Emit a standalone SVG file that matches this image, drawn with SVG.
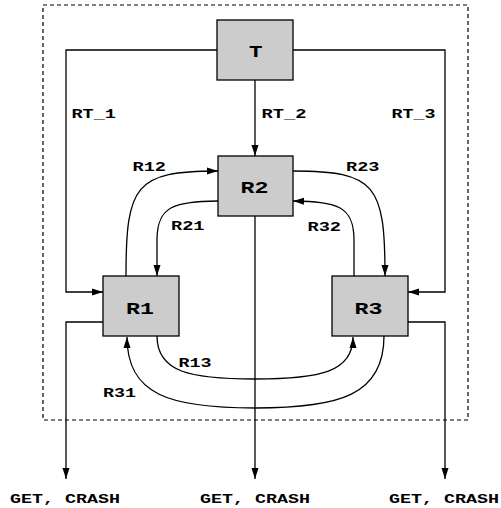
<svg xmlns="http://www.w3.org/2000/svg" width="501" height="508" viewBox="0 0 501 508">
<defs>
<marker id="ah" markerUnits="userSpaceOnUse" markerWidth="12" markerHeight="8" refX="11" refY="4" orient="auto">
<path d="M0,0.5 L11,4 L0,7.5 Z" fill="#000"/>
</marker>
<style>
.box{fill:#cccccc;stroke:#000;stroke-width:1.3}
.c{fill:none;stroke:#000;stroke-width:1.3}
.a{marker-end:url(#ah)}
.t{font-family:"Liberation Mono","Courier New",monospace;font-weight:bold;fill:#000}
.s{font-size:13px}
.b{font-size:17px}
</style>
</defs>
<rect x="43" y="5" width="425" height="415" fill="none" stroke="#000" stroke-width="1.2" stroke-dasharray="4,3"/>
<g id="connectors">
<path class="c a" d="M217,50 H66 V292 H103"/>
<path class="c a" d="M293,50 H445 V292 H408"/>
<path class="c a" d="M255,80 V156"/>
<path class="c a" d="M126,276 C126,185 135,171 218,171"/>
<path class="c a" d="M218,201 C175,202 157,205 157,240 L157,276"/>
<path class="c a" d="M293,171 C376,171 385,185 385,276"/>
<path class="c a" d="M354,276 L354,240 C354,205 336,202 293,201"/>
<path class="c a" d="M157,336 C157,372 190,379 255,379 C320,379 353,372 353,337"/>
<path class="c a" d="M384,336 C384,395 340,408 255,408 C170,408 127,395 127,337"/>
<path class="c a" d="M103,322 H66 V479"/>
<path class="c a" d="M408,322 H445 V479"/>
<path class="c a" d="M255,216 V479"/>
</g>
<g id="labels">
<text class="t s" x="71.5" y="117.5" textLength="44.5" lengthAdjust="spacingAndGlyphs">RT_1</text>
<text class="t s" x="261.5" y="117.5" textLength="45" lengthAdjust="spacingAndGlyphs">RT_2</text>
<text class="t s" x="391.5" y="117.5" textLength="44" lengthAdjust="spacingAndGlyphs">RT_3</text>
<text class="t s" x="132.5" y="170.7" textLength="33.5" lengthAdjust="spacingAndGlyphs">R12</text>
<text class="t s" x="346" y="170.7" textLength="33.5" lengthAdjust="spacingAndGlyphs">R23</text>
<text class="t s" x="171" y="230.3" textLength="33.5" lengthAdjust="spacingAndGlyphs">R21</text>
<text class="t s" x="307.5" y="230.5" textLength="33.5" lengthAdjust="spacingAndGlyphs">R32</text>
<text class="t s" x="178.5" y="366.7" textLength="33" lengthAdjust="spacingAndGlyphs">R13</text>
<text class="t s" x="103" y="396.7" textLength="33" lengthAdjust="spacingAndGlyphs">R31</text>
<text class="t s" x="10" y="502.5" textLength="110" lengthAdjust="spacingAndGlyphs">GET, CRASH</text>
<text class="t s" x="200" y="502.5" textLength="110" lengthAdjust="spacingAndGlyphs">GET, CRASH</text>
<text class="t s" x="389" y="502.5" textLength="110" lengthAdjust="spacingAndGlyphs">GET, CRASH</text>
</g>
<g id="T">
<rect class="box" x="217" y="20" width="76" height="60"/>
<text class="t b" x="249" y="57.3" textLength="13.5" lengthAdjust="spacingAndGlyphs">T</text>
</g>
<g id="R2">
<rect class="box" x="218" y="156" width="75" height="60"/>
<text class="t b" x="240.5" y="193.3" textLength="28" lengthAdjust="spacingAndGlyphs">R2</text>
</g>
<g id="R1">
<rect class="box" x="103" y="276" width="76" height="60"/>
<text class="t b" x="126" y="314" textLength="28" lengthAdjust="spacingAndGlyphs">R1</text>
</g>
<g id="R3">
<rect class="box" x="332" y="276" width="76" height="60"/>
<text class="t b" x="354.5" y="314" textLength="28" lengthAdjust="spacingAndGlyphs">R3</text>
</g>
</svg>
